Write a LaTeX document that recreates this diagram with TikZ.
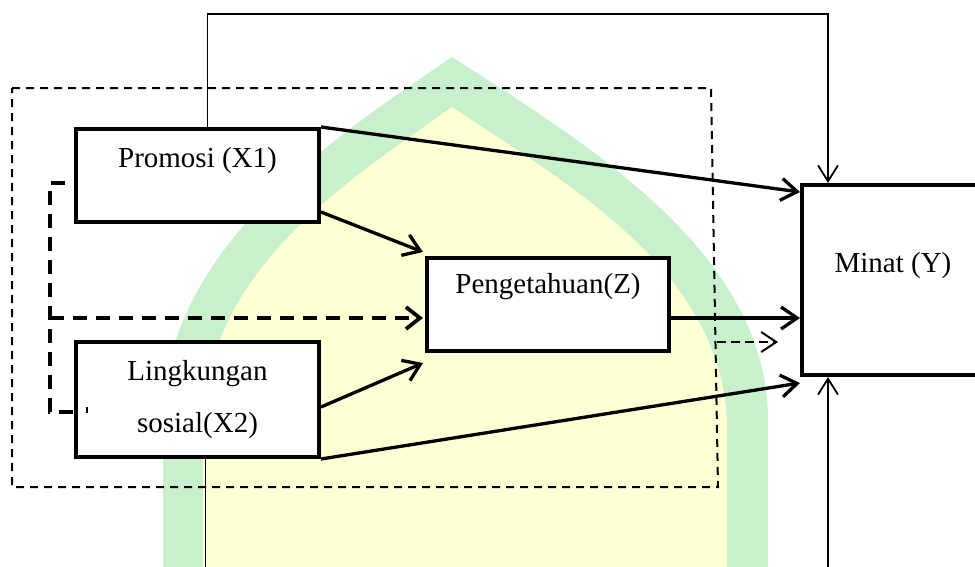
\documentclass[tikz,border=0pt]{standalone}
\usepackage{fontspec}
\setmainfont{Liberation Serif}
\usetikzlibrary{arrows.meta,calc}
\definecolor{wmgreen}{RGB}{200,240,204}
\definecolor{wmyellow}{RGB}{255,255,212}
\tikzset{
  box/.style={draw=black, line width=4pt, fill=white, rectangle, inner sep=0pt},
  lbl/.style={inner sep=0pt, anchor=base, font=\fontsize{29}{35}\selectfont},
  arr/.style={line width=3.3pt, -{Straight Barb[length=16pt,width=22pt]}},
  thinarr/.style={line width=1.8pt, -{Straight Barb[length=16pt,width=20pt]}},
  thinline/.style={line width=1.8pt},
  bracket/.style={line width=3.8pt, dash pattern=on 14pt off 9pt},
  bracketarr/.style={bracket, -{Straight Barb[length=14pt,width=22pt]}},
  smalldash/.style={line width=2pt, dash pattern=on 9pt off 5pt, -{Straight Barb[length=15pt,width=20pt]}},
  frame/.style={line width=2pt, dash pattern=on 8pt off 6pt},
}
\begin{document}
\begin{tikzpicture}[x=1pt,y=-1pt]
\useasboundingbox (0,0) rectangle (975,566);
\clip (0,0) rectangle (975,566);
% watermark
\fill[wmgreen] (163,570) -- (163,420) .. controls (163,250) and (330,140) .. (452,57) .. controls (580,140) and (768,250) .. (768,420) -- (768,570) -- cycle;
\fill[wmyellow] (203,570) -- (203,430) .. controls (203,270) and (350,180) .. (452,107) .. controls (560,180) and (727,270) .. (727,430) -- (727,570) -- cycle;
% dashed frame
\coordinate (fr1) at (12,88);
\coordinate (fr2) at (711,88);
\coordinate (fr3) at (718,487);
\coordinate (fr4) at (12,487);
\draw[frame] (fr1) -- (fr2) -- (fr3) -- (fr4) -- cycle;
% boxes
\node[box, minimum width=243pt, minimum height=93pt] (x1) at (197.5,175.5) {};
\node[box, minimum width=243pt, minimum height=115pt] (x2) at (197.5,399.5) {};
\node[box, minimum width=242pt, minimum height=93pt] (z) at (548,304.5) {};
\node[box, minimum width=182pt, minimum height=190pt] (y) at (893,280) {};
% labels
\node[lbl] (x1t) at (197.5,167) {Promosi (X1)};
\node[lbl] (x2t1) at (197.5,380) {Lingkungan};
\node[lbl] (x2t2) at (197.5,432) {sosial(X2)};
\node[lbl] (zt) at (548,293) {Pengetahuan(Z)};
\node[lbl] (yt) at (893,272) {Minat (Y)};
% tiny tick inside X2 box
\draw[line width=1.2pt] (87,407) -- (87,413);
% solid arrows
\draw[arr] (x1.north east) -- ($(y.north west)+(0,9)$);
\draw[arr] ($(x1.south east)+(0,-12)$) -- ($(z.north west)+(-2,-4)$);
\draw[arr] ($(x2.east)+(0,7.5)$) -- ($(z.south west)+(-2,10)$);
\draw[arr] (x2.south east) -- ($(y.south west)+(0,6)$);
\draw[arr] ($(z.east)+(0,13.5)$) -- ($(y.west)+(0,38)$);
% dashed bracket and arrow
\coordinate (br1) at (65,183);
\coordinate (br2) at (50,183);
\coordinate (br3) at (50,412);
\coordinate (br4) at (74,412);
\coordinate (brm) at (50,318);
\draw[bracket] (br1) -- (br2) -- (br3) -- (br4);
\draw[bracketarr] (brm) -- ($(z.west)+(-2,13.5)$);
% small dashed arrow
\coordinate (sd1) at (717,342);
\coordinate (sd2) at (778,342);
\draw[smalldash] (sd1) -- (sd2);
% top loop
\coordinate (topc) at (500,14);
\draw[thinarr] ($(x1.north)+(10,0)$) |- (topc) -| ($(y.north west)+(28,0)$);
% bottom lines
\coordinate (bl) at (205.5,570);
\coordinate (brt) at (828,570);
\draw[thinline] ($(x2.south)+(8,0)$) -- (bl);
\draw[thinarr] (brt) -- ($(y.south west)+(28,0)$);
\end{tikzpicture}
\end{document}
